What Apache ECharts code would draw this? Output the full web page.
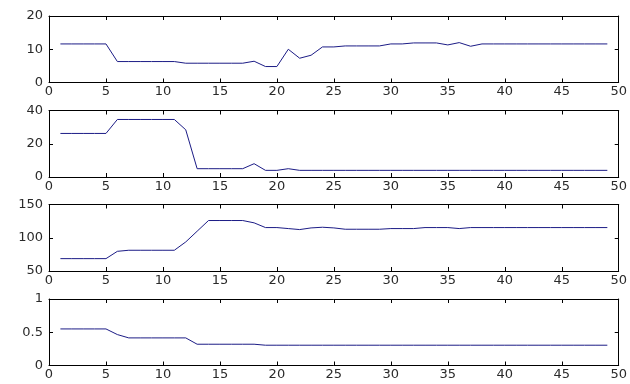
<!DOCTYPE html>
<html>
<head>
<meta charset="utf-8">
<script src="https://cdn.jsdelivr.net/npm/echarts@6/dist/echarts.min.js"></script>
<style>
  html, body { margin: 0; padding: 0; background: #fff; }
  #chart { width: 630px; height: 384px; }
</style>
</head>
<body>
<div id="chart"></div>
<script>
// Sample index shared by all four panels
const xs = [1,2,3,4,5,6,7,8,9,10,11,12,13,14,15,16,17,18,19,20,21,22,23,24,25,
            26,27,28,29,30,31,32,33,34,35,36,37,38,39,40,41,42,43,44,45,46,47,48,49];

// Panel 1 (0..20)
const series1 = [11.6,11.6,11.6,11.6,11.6, 6.3,6.3,6.3,6.3,6.3,6.3,
                 5.8,5.8,5.8,5.8,5.8,5.8, 6.4, 4.8,4.8, 10.0, 7.3, 8.2,
                 10.7,10.7, 11.0,11.0,11.0,11.0, 11.6,11.6, 11.9,11.9,11.9,
                 11.3, 12.0, 10.9,
                 11.6,11.6,11.6,11.6,11.6,11.6,11.6,11.6,11.6,11.6,11.6,11.6];
// Panel 2 (0..40)
const series2 = [26.2,26.2,26.2,26.2,26.2, 34.6,34.6,34.6,34.6,34.6,34.6,
                 28.4, 5.0,5.0,5.0,5.0,5.0, 8.0, 4.0,4.0, 5.0,
                 4.0,4.0,4.0,4.0,4.0,4.0,4.0,4.0,4.0,4.0,4.0,4.0,4.0,4.0,
                 4.0,4.0,4.0,4.0,4.0,4.0,4.0,4.0,4.0,4.0,4.0,4.0,4.0,4.0];
// Panel 3 (50..150)
const series3 = [68.6,68.6,68.6,68.6,68.6, 79.6, 81.2,81.2,81.2,81.2,81.2,
                 93.7, 109.8, 125.9,125.9,125.9,125.9, 122.4, 115.3,115.3,
                 113.8, 112.3, 114.8, 115.8, 114.8, 112.8,112.8,112.8,112.8,
                 113.8,113.8,113.8, 115.3,115.3,115.3, 113.8,
                 115.3,115.3,115.3,115.3,115.3,115.3,115.3,115.3,115.3,115.3,115.3,115.3,115.3];
// Panel 4 (0..1)
const series4 = [0.55,0.55,0.55,0.55,0.55, 0.465, 0.415,0.415,0.415,0.415,0.415,0.415,
                 0.32,0.32,0.32,0.32,0.32,0.32,
                 0.305,0.305,0.305,0.305,0.305,0.305,0.305,0.305,0.305,0.305,0.305,
                 0.305,0.305,0.305,0.305,0.305,0.305,0.305,0.305,0.305,0.305,0.305,
                 0.305,0.305,0.305,0.305,0.305,0.305,0.305,0.305,0.305];

const xTicks = [0, 50, 5];
const yRanges = [[0, 20, 10], [0, 40, 20], [50, 150, 50], [0, 1, 0.5]];
const panelData = [series1, series2, series3, series4];

const tops = [16, 110.5, 204.5, 299];
const panelHeight = 66.5;
const font = { fontFamily: 'DejaVu Sans, Arial, sans-serif', fontSize: 13, color: '#2a2a2a' };
const lineStyle = { color: '#000', width: 1 };

const grid = [], xAxis = [], yAxis = [], series = [];
panelData.forEach((vals, i) => {
  grid.push({ left: 49, right: 5, top: tops[i], height: panelHeight });
  const common = {
    type: 'value', gridIndex: i, min: xTicks[0], max: xTicks[1], interval: xTicks[2],
    axisLine: { show: true, onZero: false, lineStyle },
    axisTick: { show: true, inside: true, length: 4, lineStyle },
    splitLine: { show: false }
  };
  xAxis.push(Object.assign({}, common, { position: 'bottom',
    axisLabel: Object.assign({ margin: 3, showMaxLabel: true }, font) }));
  xAxis.push(Object.assign({}, common, { position: 'top', axisLabel: { show: false } }));
  const [ymin, ymax, yint] = yRanges[i];
  const ycommon = {
    type: 'value', gridIndex: i, min: ymin, max: ymax, interval: yint,
    axisLine: { show: true, onZero: false, lineStyle },
    axisTick: { show: true, inside: true, length: 4, lineStyle },
    splitLine: { show: false }
  };
  yAxis.push(Object.assign({}, ycommon, { position: 'left',
    axisLabel: Object.assign({ margin: 6 }, font) }));
  yAxis.push(Object.assign({}, ycommon, { position: 'right', axisLabel: { show: false } }));
  series.push({
    type: 'line', xAxisIndex: 2 * i, yAxisIndex: 2 * i,
    data: xs.map((x, k) => [x, vals[k]]),
    showSymbol: false, symbol: 'none',
    lineStyle: { color: '#1c1c86', width: 1 },
    animation: false
  });
});

const chart = echarts.init(document.getElementById('chart'));
chart.setOption({ backgroundColor: '#fff', animation: false, grid, xAxis, yAxis, series });
</script>
</body>
</html>
